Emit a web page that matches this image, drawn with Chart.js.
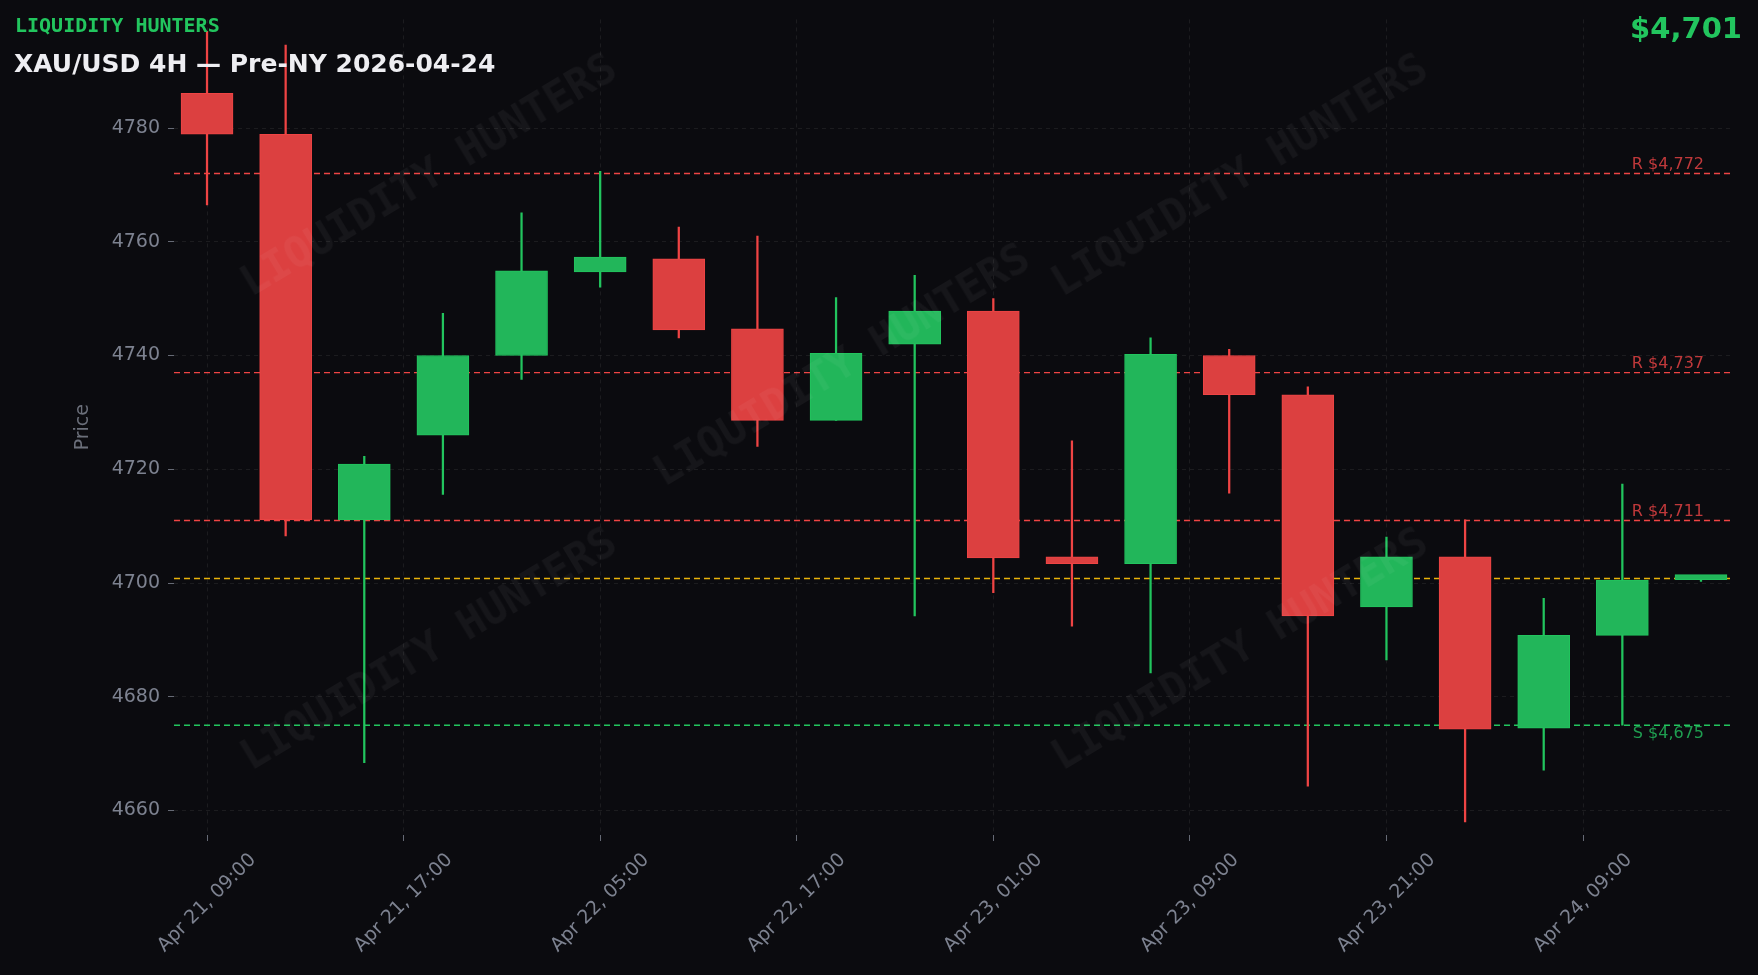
<!DOCTYPE html>
<html><head><meta charset="utf-8">
<script src="https://cdn.jsdelivr.net/npm/chart.js@4.4.1/dist/chart.umd.min.js"></script>
<style>
html,body{margin:0;padding:0;background:#0b0b0f;width:1758px;height:975px;overflow:hidden;font-family:"DejaVu Sans",sans-serif}
#wrap{position:absolute;left:0;top:0;width:1758px;height:975px}
.t{position:absolute;white-space:nowrap}
.wm{position:absolute;font-family:"DejaVu Sans Mono",monospace;font-weight:bold;font-size:42px;color:rgba(255,255,255,0.045);transform:translate(-50%,-50%) rotate(-31deg);white-space:nowrap;pointer-events:none}
</style></head><body>
<div id="wrap"><canvas id="c" width="1758" height="975"></canvas></div>
<div class="wm" style="left:428px;top:174px">LIQUIDITY HUNTERS</div>
<div class="wm" style="left:841px;top:364px">LIQUIDITY HUNTERS</div>
<div class="wm" style="left:1239px;top:174px">LIQUIDITY HUNTERS</div>
<div class="wm" style="left:428px;top:648px">LIQUIDITY HUNTERS</div>
<div class="wm" style="left:1239px;top:648px">LIQUIDITY HUNTERS</div>
<div class="t" style="left:15px;top:13px;font-family:'DejaVu Sans Mono',monospace;font-weight:bold;font-size:20px;color:#22c55e">LIQUIDITY HUNTERS</div>
<div class="t" style="left:14px;top:49px;font-weight:bold;font-size:25px;color:#eeeef2">XAU/USD 4H — Pre-NY 2026-04-24</div>
<div class="t" style="right:16px;top:11px;font-weight:bold;font-size:29px;color:#22c55e">$4,701</div>
<script>
const opens  = [4786.1,4778.9,4711.1,4726.0,4740.0,4754.7,4757.0,4744.7,4728.6,4742.0,4747.8,4704.6,4703.4,4740.0,4733.1,4695.8,4704.6,4674.5,4690.8,4700.6];
const highs  = [4797.0,4794.6,4722.3,4747.4,4765.1,4772.4,4762.6,4761.0,4750.2,4754.1,4750.0,4725.0,4743.1,4741.1,4734.5,4708.1,4711.1,4697.3,4717.4,4701.3];
const lows   = [4766.5,4708.3,4668.4,4715.6,4735.8,4752.0,4743.1,4724.0,4728.6,4694.2,4698.3,4692.4,4684.2,4715.8,4664.3,4686.5,4658.0,4667.1,4675.0,4700.3];
const closes = [4778.9,4711.1,4720.9,4740.0,4754.9,4757.3,4744.5,4728.6,4740.4,4747.8,4704.4,4703.4,4740.2,4733.1,4694.2,4704.6,4674.3,4690.8,4700.5,4701.0];
const tickPos = [0,2.5,5,7.5,10,12.5,15,17.5];
const tickLabels = ["Apr 21, 09:00","Apr 21, 17:00","Apr 22, 05:00","Apr 22, 17:00","Apr 23, 01:00","Apr 23, 09:00","Apr 23, 21:00","Apr 24, 09:00"];
const yTicks = [4660,4680,4700,4720,4740,4760,4780];
const levelValues = [4772,4737,4711,4675];
const levelLabels = ["R $4,772","R $4,737","R $4,711","S $4,675"];
const currentPrice = 4700.8;

const RED='#dc4040', REDB='#ef4444', GREEN='#22b65a', GREENB='#22c55e';
const col = i => closes[i]>=opens[i] ? GREEN : RED;
const colB = i => closes[i]>=opens[i] ? GREENB : REDB;
const idx = opens.map((_,i)=>i);

const levelsPlugin = {
  id:'levels',
  beforeDatasetsDraw(chart){
    const {ctx, chartArea:a, scales:{y}} = chart;
    ctx.save();
    ctx.lineWidth=1.4; ctx.setLineDash([6,4]);
    levelValues.forEach((v,i)=>{
      const py=y.getPixelForValue(v);
      ctx.strokeStyle = levelLabels[i][0]==='S' ? '#22c55e' : '#ef4444';
      ctx.beginPath(); ctx.moveTo(a.left,py); ctx.lineTo(a.right,py); ctx.stroke();
    });
    const pc=y.getPixelForValue(currentPrice);
    ctx.strokeStyle='#eab308';
    ctx.beginPath(); ctx.moveTo(a.left,pc); ctx.lineTo(a.right,pc); ctx.stroke();
    ctx.setLineDash([]);
    ctx.font='16px "DejaVu Sans"'; ctx.textAlign='right';
    levelValues.forEach((v,i)=>{
      const py=y.getPixelForValue(v);
      const s = levelLabels[i][0]==='S';
      ctx.fillStyle = s ? '#1f9d50' : '#c0393b';
      ctx.textBaseline = s ? 'top' : 'bottom';
      ctx.fillText(levelLabels[i], a.right-30, s ? py+1 : py-1);
    });
    ctx.restore();
  },
  afterDraw(chart){
    const {ctx, chartArea:a, scales:{x}} = chart;
    ctx.save();
    ctx.font='19px "DejaVu Sans"'; ctx.fillStyle='#7d8290';
    ctx.textAlign='center'; ctx.textBaseline='middle';
    tickPos.forEach((v,k)=>{
      ctx.save();
      ctx.translate(x.getPixelForValue(v), a.bottom+68);
      ctx.rotate(-Math.PI/4);
      ctx.fillText(tickLabels[k],0,0);
      ctx.restore();
    });
    ctx.restore();
  }
};

new Chart(document.getElementById('c'),{
  type:'bar',
  data:{datasets:[
    {data:idx.map(i=>({x:i,y:[lows[i],highs[i]]})),backgroundColor:idx.map(colB),barThickness:1.6,grouped:false,order:2},
    {data:idx.map(i=>({x:i,y:[opens[i],closes[i]]})),backgroundColor:idx.map(col),borderColor:idx.map(colB),borderWidth:1,borderSkipped:false,barThickness:52,grouped:false,order:1,minBarLength:5}
  ]},
  options:{
    responsive:false,animation:false,
    layout:{padding:{left:72,top:17,right:24,bottom:0}},
    plugins:{legend:{display:false},tooltip:{enabled:false}},
    scales:{
      x:{type:'linear',min:-0.42,max:19.42,offset:false,
        afterBuildTicks(s){s.ticks=tickPos.map(v=>({value:v}));},
        afterFit(s){s.height=140;},
        grid:{offset:false,color:'rgba(255,255,255,0.07)',drawTicks:true,tickLength:6,tickColor:'#666a75'},
        border:{display:false,dash:[4,4]},
        ticks:{color:'rgba(0,0,0,0)',font:{size:19,family:'DejaVu Sans'},maxRotation:45,minRotation:45,autoSkip:false,padding:4,
          callback:(v)=>{const k=tickPos.indexOf(v);return k>=0?tickLabels[k]:'';}}
      },
      y:{min:4655.7,max:4799.1,
        afterBuildTicks(s){s.ticks=yTicks.map(v=>({value:v}));},
        afterFit(s){s.width=102;},
        grid:{color:'rgba(255,255,255,0.07)',tickLength:6,tickColor:'#666a75'},
        border:{display:false,dash:[4,4]},
        title:{display:true,text:'Price',color:'#6b6f7a',font:{size:19,family:'DejaVu Sans'},padding:{top:0,bottom:6}},
        ticks:{color:'#7d8290',font:{size:19,family:'DejaVu Sans'},padding:8,callback:v=>String(v)}
      }
    }
  },
  plugins:[levelsPlugin]
});
</script></body></html>
